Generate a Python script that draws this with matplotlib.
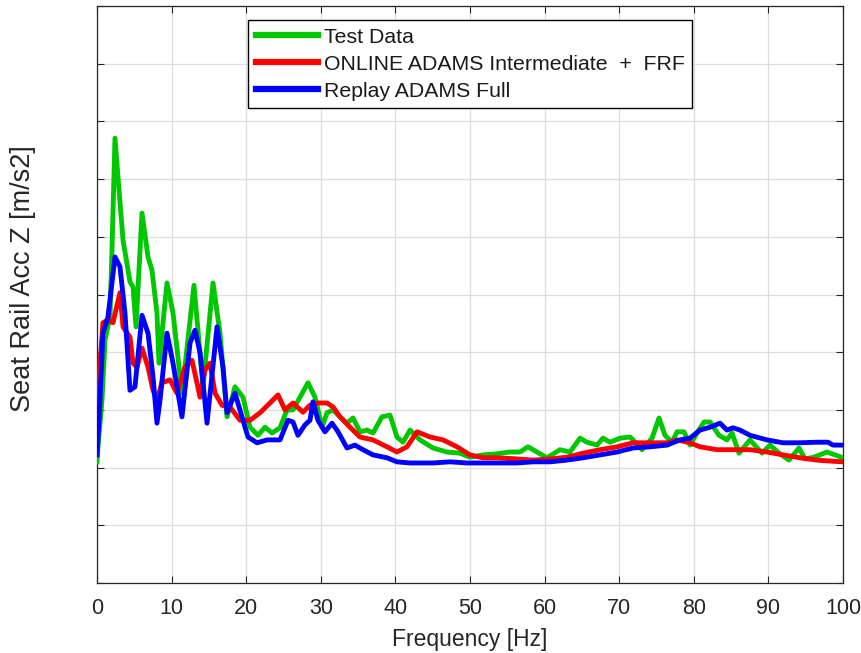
import matplotlib
matplotlib.use("Agg")
import matplotlib.pyplot as plt

# ---------------- data ----------------
test_f = [0.0, 0.13, 0.67, 1.07, 1.74, 2.01, 2.41, 2.95, 3.49, 4.42, 4.83, 5.23, 6.03, 6.84, 7.37,
          8.04, 8.31, 9.38, 10.19, 11.39, 13.00, 14.21, 15.55, 16.49, 17.43, 18.50, 19.57, 20.51,
          21.58, 22.52, 23.46, 24.53, 25.47, 26.27, 27.21, 28.28, 29.22, 30.16, 30.83, 31.64, 32.57,
          33.51, 34.32, 35.25, 36.19, 37.00, 38.20, 39.28, 40.21, 41.02, 41.96, 43.30, 45.04, 46.92,
          48.66, 50.00, 51.74, 53.62, 55.36, 56.70, 57.77, 58.98, 60.32, 62.06, 63.40, 64.75, 65.68,
          67.02, 67.83, 68.77, 70.11, 71.45, 71.85, 73.06, 74.40, 75.34, 76.14, 77.08, 77.75, 78.69,
          79.49, 80.43, 81.37, 82.17, 83.38, 84.45, 85.12, 86.06, 87.53, 89.14, 90.21, 91.42, 92.76,
          94.10, 94.91, 96.11, 97.86, 98.93, 100.0]
test_v = [2.10, 2.36, 3.17, 4.21, 4.61, 5.77, 7.71, 6.81, 5.94, 5.22, 5.13, 4.44, 6.41, 5.65, 5.42,
          4.68, 3.81, 5.20, 4.68, 3.29, 5.16, 3.40, 5.20, 4.33, 2.88, 3.40, 3.22, 2.70,
          2.56, 2.70, 2.60, 2.69, 3.00, 3.00, 3.22, 3.47, 3.22, 2.70, 2.95, 3.00, 2.88,
          2.77, 2.86, 2.62, 2.65, 2.60, 2.88, 2.91, 2.53, 2.44, 2.65, 2.48, 2.34, 2.27,
          2.25, 2.18, 2.22, 2.24, 2.27, 2.27, 2.36, 2.27, 2.17, 2.31, 2.27, 2.51, 2.44,
          2.39, 2.51, 2.44, 2.51, 2.53, 2.48, 2.31, 2.51, 2.86, 2.56, 2.44, 2.62, 2.62,
          2.39, 2.60, 2.79, 2.79, 2.56, 2.48, 2.60, 2.25, 2.48, 2.25, 2.39, 2.25, 2.13,
          2.34, 2.15, 2.18, 2.27, 2.22, 2.17]

online_f = [0.0, 0.13, 0.80, 1.47, 2.14, 3.08, 3.49, 4.42, 4.83, 5.36, 6.03, 6.84, 7.51, 8.04, 8.71,
            9.79, 10.72, 11.80, 12.73, 13.40, 13.81, 14.48, 15.15, 15.82, 16.76, 17.83, 19.17, 20.51,
            21.85, 23.19, 24.26, 25.20, 26.27, 27.61, 28.55, 29.62, 30.83, 31.64, 32.57, 33.91, 35.25,
            37.00, 38.87, 40.21, 41.55, 42.90, 44.64, 46.38, 48.26, 50.00, 51.74, 53.62, 56.30, 58.45,
            60.72, 63.00, 65.15, 67.43, 69.71, 71.85, 74.13, 76.41, 77.75, 79.49, 80.83, 83.11, 85.25,
            87.53, 89.81, 91.96, 94.24, 96.51, 98.66, 100.0]
online_v = [2.82, 3.34, 4.51, 4.56, 4.51, 5.03, 4.44, 4.26, 3.81, 3.74, 4.07, 3.74, 3.34, 3.17, 3.47,
            3.52, 3.29, 3.74, 3.86, 3.47, 3.22, 3.69, 3.81, 3.29, 3.08, 3.05, 2.82, 2.82,
            2.95, 3.12, 3.26, 3.00, 3.12, 2.96, 3.08, 3.12, 3.12, 3.05, 2.88, 2.70, 2.53,
            2.48, 2.36, 2.27, 2.36, 2.62, 2.53, 2.48, 2.36, 2.22, 2.17, 2.17, 2.15, 2.13,
            2.15, 2.18, 2.25, 2.31, 2.36, 2.43, 2.43, 2.43, 2.48, 2.43, 2.36, 2.31, 2.31,
            2.31, 2.27, 2.22, 2.17, 2.13, 2.11, 2.10]

replay_f = [0.0, 0.27, 0.80, 1.47, 2.41, 3.08, 3.75, 4.42, 5.09, 6.03, 6.84, 7.51, 8.04, 8.45, 9.38,
            10.19, 11.39, 12.47, 13.14, 13.81, 14.75, 16.09, 16.89, 17.43, 18.50, 19.57, 20.24, 21.45,
            22.79, 24.53, 25.60, 26.27, 26.94, 27.88, 28.55, 28.95, 29.62, 30.56, 31.50, 32.31, 33.51,
            34.58, 35.66, 37.00, 38.87, 40.21, 41.96, 45.04, 47.32, 49.60, 51.74, 54.02, 56.30, 58.45,
            60.72, 63.00, 65.15, 67.43, 69.71, 71.85, 74.13, 76.41, 78.15, 79.49, 80.83, 82.17, 83.51,
            84.45, 85.25, 86.19, 87.53, 89.81, 91.96, 94.24, 96.51, 97.99, 98.66, 100.0]
replay_v = [2.22, 2.82, 4.33, 4.61, 5.65, 5.48, 4.68, 3.34, 3.40, 4.64, 4.33, 3.57, 2.77, 3.17, 4.33,
            3.81, 2.88, 4.16, 4.38, 3.99, 2.77, 4.44, 3.74, 2.95, 3.29, 2.82, 2.53, 2.43,
            2.48, 2.48, 2.82, 2.79, 2.56, 2.74, 2.82, 3.14, 2.82, 2.62, 2.77, 2.62, 2.34,
            2.39, 2.31, 2.22, 2.17, 2.10, 2.08, 2.08, 2.10, 2.08, 2.08, 2.08, 2.08, 2.10,
            2.10, 2.13, 2.17, 2.22, 2.27, 2.34, 2.36, 2.39, 2.48, 2.51, 2.65, 2.70, 2.77,
            2.65, 2.69, 2.65, 2.56, 2.48, 2.43, 2.43, 2.44, 2.44, 2.39, 2.39]

labels = ["Test Data", "ONLINE ADAMS Intermediate  +  FRF", "Replay ADAMS Full"]
colors = ["#00C800", "#FF0000", "#0000FF"]
x_ticks = list(range(0, 101, 10))
y_ticks = list(range(0, 11))

# ---------------- plot ----------------
plt.rcParams['font.family'] = ['Liberation Sans', 'DejaVu Sans']

fig = plt.figure(figsize=(8.61, 6.53), dpi=100)
ax = fig.add_axes([97/861, 1 - 583/653, (843-97)/861, (583-6)/653])

series = [(test_f, test_v), (online_f, online_v), (replay_f, replay_v)]
for (f, v), lab, c in zip(series, labels, colors):
    ax.plot(f, v, color=c, lw=3.5, label=lab, solid_joinstyle='round', zorder=3)

ax.set_xlim(0, 100)
ax.set_ylim(0, 10)
ax.set_xticks(x_ticks)
ax.set_yticks(y_ticks)
ax.set_yticklabels([])
ax.tick_params(axis='both', direction='in', top=True, right=True, length=5,
               width=0.8, color='#262626', labelsize=15.5, labelcolor='#262626')
ax.tick_params(axis='x', pad=11)
ax.grid(True, color='#DCDCDC', lw=0.9, zorder=0)
for s in ax.spines.values():
    s.set_color('#262626')
    s.set_linewidth(0.9)

ax.set_xlabel("Frequency [Hz]", fontsize=16.5, color='#262626', labelpad=6)
ax.set_ylabel("Seat Rail Acc Z [m/s2]", fontsize=19.5, color='#262626')
ax.yaxis.set_label_coords((36 - 97) / 746, (583 - 279) / 577)

leg = ax.legend(loc='upper left', bbox_to_anchor=((248-97)/746, (583-20)/577),
                borderaxespad=0, fontsize=15.3, frameon=True, fancybox=False,
                edgecolor='black', framealpha=1, handlelength=2.95, handletextpad=0.25,
                labelspacing=0.38, borderpad=0.36)
leg.get_frame().set_linewidth(1.0)
for t in leg.get_texts():
    t.set_color('#1a1a1a')
for ln in leg.get_lines():
    ln.set_linewidth(4.5)

fig.savefig("out.png", dpi=100)
